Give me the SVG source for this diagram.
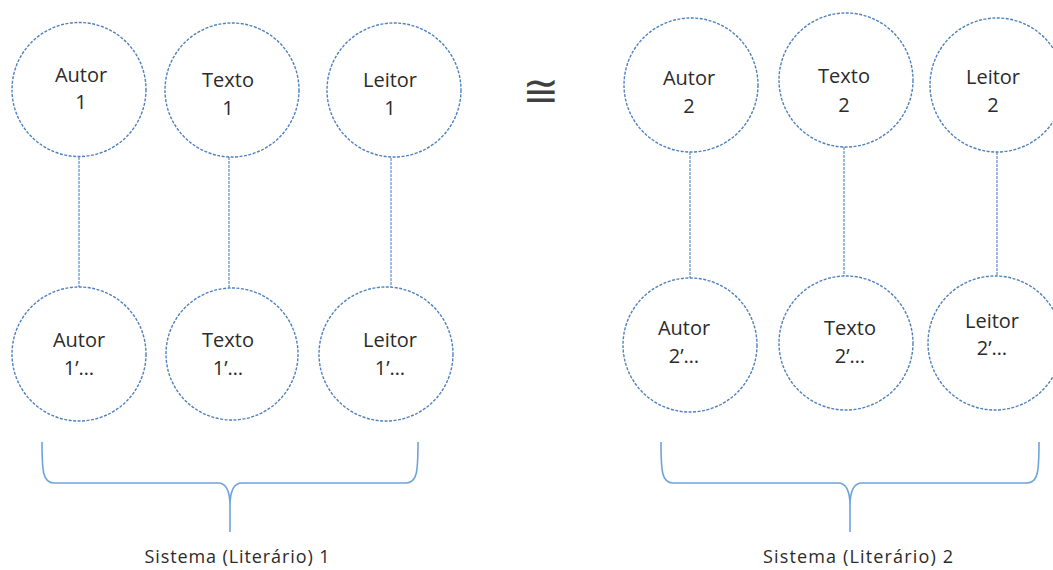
<svg xmlns="http://www.w3.org/2000/svg" width="1053" height="570" viewBox="0 0 1053 570">
<style>
.node circle{fill:#fff;stroke:#4F81BD;stroke-width:1.4;stroke-dasharray:3 1.5}
.node text{font-family:"Open Sans","Liberation Sans",sans-serif;font-size:20px;fill:#2b2b2b;text-anchor:middle}
.conn line{stroke:#5B8FD0;stroke-width:1.2;stroke-dasharray:3 1}
.brace{fill:none;stroke:#6FA3DC;stroke-width:1.6}
.label{font-family:"Open Sans","Liberation Sans",sans-serif;font-size:18px;fill:#2b2b2b;text-anchor:middle}
</style>
<rect width="1053" height="570" fill="#fff"/>
<g id="connectors" class="conn">
<line x1="79" y1="157" x2="79" y2="288"/>
<line x1="229" y1="157" x2="229" y2="288"/>
<line x1="391" y1="158" x2="391" y2="288"/>
<line x1="690" y1="152" x2="690" y2="278"/>
<line x1="844" y1="147" x2="844" y2="277"/>
<line x1="997" y1="152" x2="997" y2="277"/>
</g>
<g id="autor1" class="node"><circle cx="79" cy="89.5" r="67"/><text x="81" y="82">Autor</text><text x="81" y="109">1</text></g>
<g id="texto1" class="node"><circle cx="232" cy="90" r="67"/><text x="228" y="87">Texto</text><text x="228" y="115">1</text></g>
<g id="leitor1" class="node"><circle cx="394" cy="90" r="67"/><text x="390" y="87">Leitor</text><text x="390" y="115">1</text></g>
<g id="autor1p" class="node"><circle cx="79" cy="354" r="67"/><text x="79" y="347">Autor</text><text x="79" y="375">1’…</text></g>
<g id="texto1p" class="node"><circle cx="232" cy="354" r="66"/><text x="228" y="347">Texto</text><text x="228" y="375">1’…</text></g>
<g id="leitor1p" class="node"><circle cx="386" cy="354" r="67"/><text x="390" y="347">Leitor</text><text x="390" y="375">1’…</text></g>
<g id="autor2" class="node"><circle cx="691" cy="85" r="67"/><text x="689" y="85">Autor</text><text x="689" y="113">2</text></g>
<g id="texto2" class="node"><circle cx="846" cy="80" r="67"/><text x="844" y="83">Texto</text><text x="844" y="112">2</text></g>
<g id="leitor2" class="node"><circle cx="997" cy="85" r="67"/><text x="993" y="84">Leitor</text><text x="993" y="112">2</text></g>
<g id="autor2p" class="node"><circle cx="690" cy="345" r="67"/><text x="684" y="335">Autor</text><text x="684" y="363">2’…</text></g>
<g id="texto2p" class="node"><circle cx="846" cy="343" r="67"/><text x="850" y="335">Texto</text><text x="850" y="363">2’…</text></g>
<g id="leitor2p" class="node"><circle cx="995" cy="343" r="67"/><text x="992" y="328">Leitor</text><text x="992" y="355">2’…</text></g>
<text x="541" y="106" font-family="DejaVu Sans, sans-serif" font-size="44" fill="#404040" text-anchor="middle">≅</text>
<path class="brace" d="M42,442 C42,472 43,483 54,483 L218,483 C226,483 230,490 230,506 L230,532 M230,506 C230,490 234,483 242,483 L406,483 C417,483 418,472 418,442"/>
<path class="brace" d="M661,442 C661,472 662,483 673,483 L838,483 C846,483 850,490 850,506 L850,532 M850,506 C850,490 854,483 862,483 L1027,483 C1038,483 1039,472 1039,442"/>
<text class="label" x="237" y="563" textLength="185" lengthAdjust="spacing">Sistema (Literário) 1</text>
<text class="label" x="858" y="563" textLength="190" lengthAdjust="spacing">Sistema (Literário) 2</text>
</svg>
